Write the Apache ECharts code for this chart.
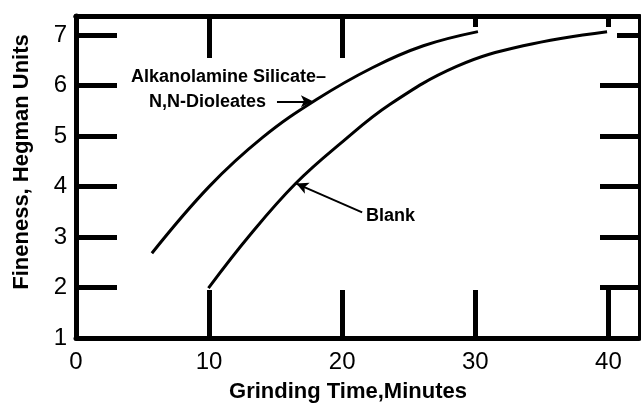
<!DOCTYPE html>
<html>
<head>
<meta charset="utf-8">
<script src="https://cdn.jsdelivr.net/npm/echarts@6/dist/echarts.min.js"></script>
<style>html,body{margin:0;padding:0;background:#fff}#c{width:641px;height:406px}</style>
</head>
<body>
<div id="c"></div>
<script>
// Data
var dioleatesTime = [5.7, 10, 14, 18.1, 22.3, 26.1, 30.2];
var dioleatesFineness = [2.68, 4.0, 4.97, 5.73, 6.36, 6.79, 7.07];
var blankTime = [9.95, 13.1, 16.5, 19.9, 23.6, 28.6, 33.6, 39.9];
var blankFineness = [1.99, 3.05, 4.06, 4.86, 5.63, 6.38, 6.79, 7.07];
var xTickLabels = [0, 10, 20, 30, 40];
var yTickLabels = [1, 2, 3, 4, 5, 6, 7];
var dioleatesArrow = [[15.1, 5.69], [17.8, 5.69]];
var blankArrow = [[21.5, 3.49], [16.55, 4.06]];

function pairs(xs, ys) { return xs.map(function (x, i) { return [x, ys[i]]; }); }

var FONT = 'Liberation Sans';
var X_MIN = 0, X_MAX = 42.3, Y_MIN = 1, Y_MAX = 7.38;
var chart = echarts.init(document.getElementById('c'), null, {renderer: 'canvas'});
var gridRect = {left: 76, right: 2, top: 16, bottom: 68};

function xAxisDef(gi, pos, ticks, len, labels) {
  return {type: 'value', gridIndex: gi, position: pos, min: X_MIN, max: X_MAX, splitLine: {show: false},
    axisLine: {show: true, onZero: false, lineStyle: {color: '#000', width: 5}},
    axisTick: {show: true, inside: true, length: len, lineStyle: {color: '#000', width: 5}, customValues: ticks},
    axisLabel: labels ? {show: true, customValues: labels, margin: 12, color: '#000', fontSize: 24, fontFamily: FONT} : {show: false}};
}
function yAxisDef(gi, pos, ticks, len, labels, lw) {
  return {type: 'value', gridIndex: gi, position: pos, min: Y_MIN, max: Y_MAX, splitLine: {show: false},
    axisLine: {show: true, onZero: false, lineStyle: {color: '#000', width: lw}},
    axisTick: {show: true, inside: true, length: len, lineStyle: {color: '#000', width: 5}, customValues: ticks},
    axisLabel: labels ? {show: true, customValues: labels, margin: 9, color: '#000', fontSize: 24, fontFamily: FONT} : {show: false}};
}

var option = {
  animation: false,
  backgroundColor: '#fff',
  grid: [gridRect, gridRect, gridRect],
  xAxis: [
    xAxisDef(0, 'bottom', [10, 20, 30, 40], 48, xTickLabels),
    xAxisDef(1, 'top', [10, 20], 42, null),
    xAxisDef(2, 'top', [30, 40], 11, null)
  ],
  yAxis: [
    yAxisDef(0, 'left', [2, 3, 4, 5, 6, 7], 41, yTickLabels, 5),
    yAxisDef(1, 'right', [2, 3, 4, 5, 6], 39, null, 3),
    yAxisDef(2, 'right', [7], 22, null, 3)
  ],
  series: [
    {type: 'line', name: 'Alkanolamine Silicate-N,N-Dioleates', xAxisIndex: 0, yAxisIndex: 0,
     data: pairs(dioleatesTime, dioleatesFineness),
     smooth: 0.4, showSymbol: false, lineStyle: {color: '#000', width: 3},
     markLine: {silent: true, symbol: ['none', 'arrow'], symbolSize: [9, 12], label: {show: false},
       lineStyle: {color: '#000', width: 2, type: 'solid'},
       data: [[{coord: dioleatesArrow[0]}, {coord: dioleatesArrow[1]}]]}},
    {type: 'line', name: 'Blank', xAxisIndex: 0, yAxisIndex: 0,
     data: pairs(blankTime, blankFineness),
     smooth: 0.4, showSymbol: false, lineStyle: {color: '#000', width: 3},
     markLine: {silent: true, symbol: ['none', 'arrow'], symbolSize: [9, 12], label: {show: false},
       lineStyle: {color: '#000', width: 2, type: 'solid'},
       data: [[{coord: blankArrow[0]}, {coord: blankArrow[1]}]]}}
  ],
  graphic: [
    {type: 'text', x: 348, y: 392, style: {text: 'Grinding Time,Minutes', fill: '#000', font: 'bold 22px ' + FONT, textAlign: 'center', textVerticalAlign: 'middle'}},
    {type: 'text', x: 22, y: 162, rotation: Math.PI / 2, style: {text: 'Fineness, Hegman Units', fill: '#000', font: 'bold 22px ' + FONT, textAlign: 'center', textVerticalAlign: 'middle'}},
    {type: 'text', x: 131, y: 77, style: {text: 'Alkanolamine Silicate\u2013', fill: '#000', font: 'bold 18px ' + FONT, textAlign: 'left', textVerticalAlign: 'middle'}},
    {type: 'text', x: 149, y: 102, style: {text: 'N,N-Dioleates', fill: '#000', font: 'bold 18px ' + FONT, textAlign: 'left', textVerticalAlign: 'middle'}},
    {type: 'text', x: 366, y: 216, style: {text: 'Blank', fill: '#000', font: 'bold 18px ' + FONT, textAlign: 'left', textVerticalAlign: 'middle'}}
  ]
};
chart.setOption(option);
</script>
</body>
</html>
